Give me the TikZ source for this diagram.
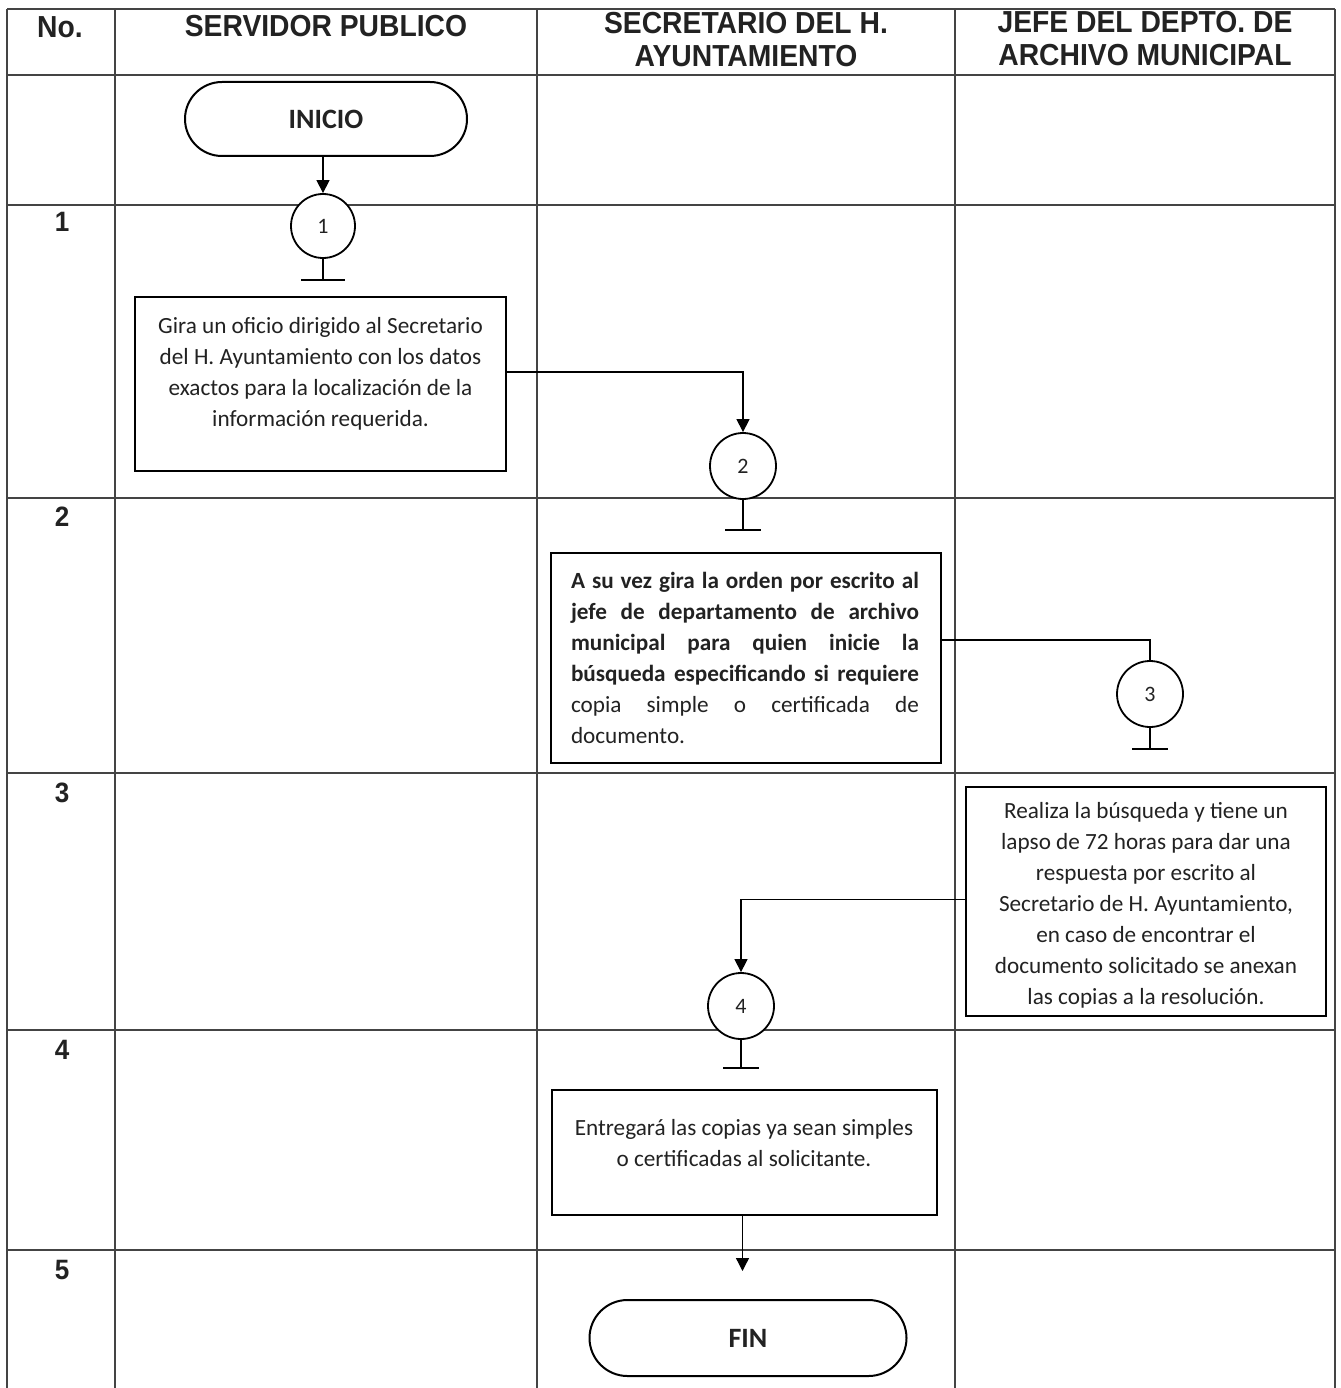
\documentclass[tikz,border=0pt]{standalone}
\usepackage{fontspec}
\setmainfont{Carlito}
\newfontfamily\hdrfont[FakeStretch=0.93]{Liberation Sans}
\usetikzlibrary{arrows.meta,shapes.misc}
\definecolor{ink}{HTML}{222222}
\definecolor{rule}{HTML}{444444}
\begin{document}
\begin{tikzpicture}[x=1pt,y=-1pt,
  grid/.style={draw=rule,line width=1.4pt},
  hdr/.style={font=\hdrfont\bfseries\fontsize{30.4}{33}\selectfont,text=ink,align=center,inner sep=0pt},
  rownum/.style={font=\hdrfont\bfseries\fontsize{28}{30}\selectfont,text=ink,inner sep=0pt},
  stepbox/.style={draw=black,line width=2.4pt,rectangle,inner sep=0pt},
  body/.style={font=\fontsize{23.2}{31}\selectfont,text=ink,align=center,inner sep=0pt},
  term/.style={draw=black,line width=2pt,rounded rectangle,inner sep=0pt,
    font=\bfseries\fontsize{28}{30}\selectfont,text=ink},
  conn/.style={draw=black,line width=1.8pt,fill=white,circle,minimum size=66pt,inner sep=0pt,
    font=\fontsize{22}{24}\selectfont,text=ink},
  link/.style={draw=black,line width=1.3pt},
  arr/.style={link,-{Triangle[width=13pt,length=13pt]}}
]
\useasboundingbox (0,0) rectangle (1340,1388);
\fill[white] (0,0) rectangle (1340,1388);

% table grid
\draw[grid] (7,9) -- (1335,9);
\foreach \yy in {75,205,498,773,1030,1250} \draw[grid] (7,\yy) -- (1335,\yy);
\foreach \xx in {7,115,537,955,1335} \draw[grid] (\xx,9) -- (\xx,1388);

% header
\node[hdr] (hNo) at (60,27) {No.};
\node[hdr] (hServ) at (326,26) {SERVIDOR PUBLICO};
\node[hdr] (hSec) at (746,40) {SECRETARIO DEL H.\\AYUNTAMIENTO};
\node[hdr] (hJefe) at (1145,39) {JEFE DEL DEPTO. DE\\ARCHIVO MUNICIPAL};

% step numbers
\node[rownum] (n1) at (62,222) {1};
\node[rownum] (n2) at (62,517) {2};
\node[rownum] (n3) at (62,793) {3};
\node[rownum] (n4) at (62,1050) {4};
\node[rownum] (n5) at (62,1270) {5};

% terminals
\node[term,minimum width=282pt,minimum height=74pt] (inicio) at (326,119) {INICIO};
\node[term,minimum width=317pt,minimum height=76pt] (fin) at (748,1338) {FIN};

% connectors (circles)
\node[conn,minimum size=64pt] (c1) at (323,226) {1};
\node[conn] (c2) at (743,466) {2};
\node[conn] (c3) at (1150,694) {3};
\node[conn] (c4) at (741,1006) {4};

% process boxes
\node[stepbox,minimum width=371pt,minimum height=174pt] (b1) at (320.5,384) {};
\node[body] (t1) at (320.5,374) {Gira un oficio dirigido al Secretario\\del H. Ayuntamiento con los datos\\exactos para la localización de la\\información requerida.};

\node[stepbox,minimum width=390pt,minimum height=210pt] (b2) at (746,658) {};
\node[body,align=left] (t2) at (745,658) {%
\makebox[348pt][s]{\bfseries A su vez gira la orden por escrito al}\\
\makebox[348pt][s]{\bfseries jefe de departamento de archivo}\\
\makebox[348pt][s]{\bfseries municipal para quien inicie la}\\
\makebox[348pt][s]{\bfseries búsqueda especificando si requiere}\\
\makebox[348pt][s]{copia simple o certificada de}\\
\makebox[348pt][l]{documento.}};

\node[stepbox,minimum width=360pt,minimum height=229pt] (b3) at (1146,901.5) {};
\node[body] (t3) at (1146,905) {Realiza la búsqueda y tiene un\\lapso de 72 horas para dar una\\respuesta por escrito al\\Secretario de H. Ayuntamiento,\\en caso de encontrar el\\documento solicitado se anexan\\las copias a la resolución.};

\node[stepbox,minimum width=385pt,minimum height=125pt] (b4) at (744.5,1152.5) {};
\node[body] (t4) at (744,1143) {Entregará las copias ya sean simples\\o certificadas al solicitante.};

% flow
\draw[arr] (c1.north |- inicio.south) -- (c1.north);
\draw[arr] ([yshift=12pt]b1.east) -| (c2.north);
\draw[link] ([yshift=18pt]b2.east) -| (c3.north);
\draw[arr] ([yshift=2pt]b3.west) -| (c4.north);
\draw[arr,shorten >=28pt] ([xshift=-2pt]b4.south) -- ([xshift=-2pt]b4.south |- fin.north);

% off-page stems under each connector
\draw[link] (c1.south) -- ++(0,21) coordinate (g1);
\draw[link] ([xshift=-22pt]g1) -- ([xshift=22pt]g1);
\draw[link] (c2.south) -- ++(0,30) coordinate (g2);
\draw[link] ([xshift=-18pt]g2) -- ([xshift=18pt]g2);
\draw[link] (c3.south) -- ++(0,21) coordinate (g3);
\draw[link] ([xshift=-18pt]g3) -- ([xshift=18pt]g3);
\draw[link] (c4.south) -- ++(0,28) coordinate (g4);
\draw[link] ([xshift=-18pt]g4) -- ([xshift=18pt]g4);
\end{tikzpicture}
\end{document}
